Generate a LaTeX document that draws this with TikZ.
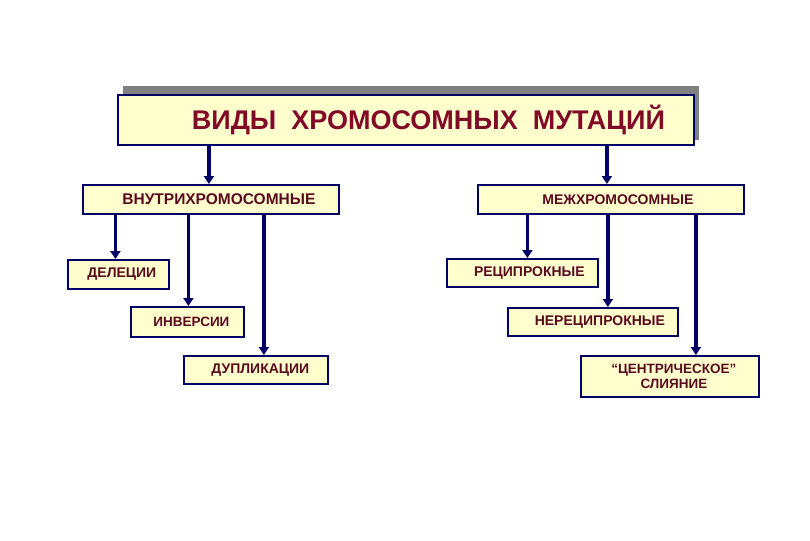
\documentclass[tikz,border=0pt]{standalone}
\usepackage{fontspec}
\setmainfont{Liberation Sans}
\usetikzlibrary{arrows.meta,calc}
\definecolor{boxfill}{RGB}{255,255,206}
\definecolor{navy}{RGB}{0,0,102}
\definecolor{titlered}{RGB}{128,10,40}
\definecolor{textred}{RGB}{90,10,30}
\definecolor{shadowgray}{RGB}{128,128,128}
\tikzset{
  box/.style={draw=navy, line width=1.8pt, fill=boxfill, anchor=north west, inner sep=0pt,
    text=textred, font=\fontsize{14}{15}\selectfont\bfseries, align=center},
  arr/.style={draw=navy, line width=3.3pt, -{Triangle[width=10pt,length=8pt]}},
}
\begin{document}
\begin{tikzpicture}[x=1pt,y=-1pt]
\useasboundingbox[fill=white] (0,0) rectangle (810,540);
% title shadow
\fill[shadowgray] (123,86) rectangle (699,140);
\node[box, minimum width=576pt, minimum height=50pt, text=titlered, font=\fontsize{27}{29}\selectfont\bfseries] (title) at (117,94) {\hspace*{45pt}ВИДЫ\ \ ХРОМОСОМНЫХ\ \ МУТАЦИЙ};
% level 2
\node[box, minimum width=256pt, minimum height=29pt, font=\fontsize{15.5}{17}\selectfont\bfseries] (vn) at (82,184) {\hspace*{16pt}ВНУТРИХРОМОСОМНЫЕ};
\node[box, minimum width=266pt, minimum height=29pt] (mezh) at (477,184) {\hspace*{14pt}МЕЖХРОМОСОМНЫЕ};
% level 3 left
\node[box, minimum width=101pt, minimum height=29pt] (del) at (67,259) {\hspace*{7pt}ДЕЛЕЦИИ};
\node[box, minimum width=113pt, minimum height=30pt, font=\fontsize{13.5}{15}\selectfont\bfseries] (inv) at (130,306) {\hspace*{8pt}ИНВЕРСИИ};
\node[box, minimum width=144pt, minimum height=28pt] (dup) at (183,355) {\hspace*{9pt}ДУПЛИКАЦИИ};
% level 3 right
\node[box, minimum width=151pt, minimum height=28pt] (rec) at (446,258) {\hspace*{14pt}РЕЦИПРОКНЫЕ};
\node[box, minimum width=170pt, minimum height=28pt] (nrec) at (507,307) {\hspace*{14pt}НЕРЕЦИПРОКНЫЕ};
\node[box, minimum width=178pt, minimum height=41pt, font=\fontsize{13.5}{14.5}\selectfont\bfseries] (cent) at (580,355) {\hspace*{8pt}“ЦЕНТРИЧЕСКОЕ”\\\hspace*{8pt}СЛИЯНИЕ};
% connectors
\draw[arr] ([xshift=-2pt]title.south -| vn.north) -- ([xshift=-2pt]vn.north);
\draw[arr] ([xshift=-4pt]title.south -| mezh.north) -- ([xshift=-4pt]mezh.north);
\draw[arr] ([xshift=-3pt]vn.south -| del.north) -- ([xshift=-3pt]del.north);
\draw[arr] ([xshift=1pt]vn.south -| inv.north) -- ([xshift=1pt]inv.north);
\draw[arr] ([xshift=8pt]vn.south -| dup.north) -- ([xshift=8pt]dup.north);
\draw[arr] ([xshift=5pt]mezh.south -| rec.north) -- ([xshift=5pt]rec.north);
\draw[arr] ([xshift=15pt]mezh.south -| nrec.north) -- ([xshift=15pt]nrec.north);
\draw[arr] ([xshift=26pt]mezh.south -| cent.north) -- ([xshift=26pt]cent.north);
\end{tikzpicture}
\end{document}
